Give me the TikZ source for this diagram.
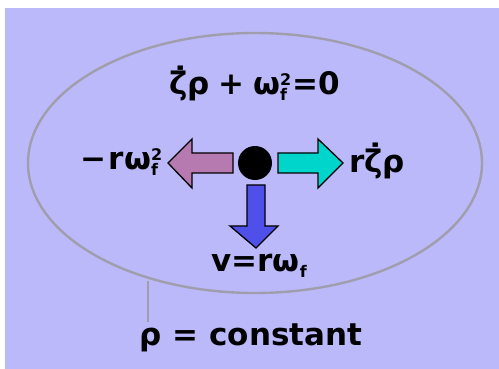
\documentclass[tikz,border=0pt]{standalone}
\usepackage{fontspec}
\setmainfont{DejaVu Sans}
\newfontfamily\heavy{DejaVu Sans Bold}
\definecolor{bgc}{RGB}{187,185,250}
\definecolor{ringc}{RGB}{160,158,172}
\definecolor{pinkc}{RGB}{182,122,176}
\definecolor{cyanc}{RGB}{0,213,204}
\definecolor{bluec}{RGB}{79,79,234}
\newcommand\supsubstack[2]{\rlap{\raisebox{-0.19em}{\fontsize{16}{16}\selectfont #2}}\raisebox{0.3em}{\fontsize{16}{16}\selectfont #1}\kern0.05em}
\begin{document}
\begin{tikzpicture}[x=1pt,y=-1pt,
  lbl/.style={inner sep=0pt,font=\heavy\fontsize{31}{36}\selectfont},
  arrowshape/.style={draw=black,line width=1.3pt,line join=miter}]
\useasboundingbox (0,0) rectangle (499,369);
\fill[bgc] (5,8) rectangle (499,369);
% ring
\draw[ringc,line width=2.4pt] (255,163) ellipse [x radius=227,y radius=130];
\coordinate (ringpt) at (148,281);
% arrows
\fill[pinkc,arrowshape] (233,153) -- (192,153) -- (192,139) -- (168,163) -- (192,188) -- (192,173) -- (233,173) -- cycle;
\fill[cyanc,arrowshape] (278,153) -- (318,153) -- (318,139) -- (343,163) -- (318,188) -- (318,173) -- (278,173) -- cycle;
\fill[bluec,arrowshape] (247,185) -- (265,185) -- (265,226) -- (278,226) -- (256,248) -- (230,226) -- (247,226) -- cycle;
% particle
\node[circle,fill=black,inner sep=0pt,minimum size=34pt] (mass) at (255,163) {};
% labels
\node[lbl,anchor=base] (eq) at (255,95) {\.{ζ}ρ\;+\;ω\supsubstack{2}{f}=0};
\node[lbl,anchor=base east] (cf) at (164,170) {−\kern0.08em rω\supsubstack{2}{f}};
\node[lbl,anchor=base west] (co) at (349,172) {r\.{ζ}ρ};
\node[lbl,anchor=base] (vel) at (262,272) {v=rω\supsubstack{\phantom{2}}{f}};
\node[lbl,anchor=base] (const) at (251,345) {ρ = constant};
\draw[ringc,line width=1.5pt] (ringpt) -- (ringpt |- 0,322);
\end{tikzpicture}
\end{document}
